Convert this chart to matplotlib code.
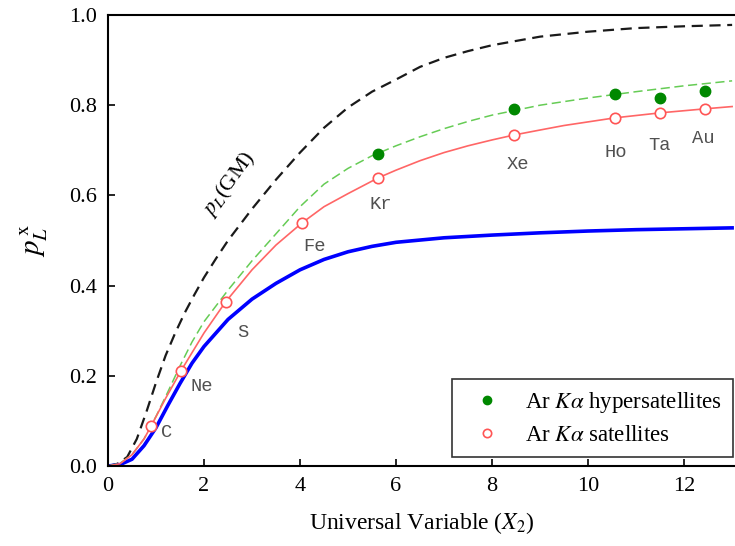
import matplotlib
matplotlib.use("Agg")
import matplotlib.pyplot as plt

plt.rcParams['font.family'] = ['Liberation Serif', 'DejaVu Serif']
plt.rcParams['mathtext.fontset'] = 'stix'

# Curves
gm_x = [0, 0.2, 0.4, 0.6, 0.8, 1.0, 1.2, 1.4, 1.6, 1.8, 2.0, 2.25, 2.5, 2.75, 3.0, 3.5,
        4.0, 4.5, 5.0, 5.5, 6.0, 6.5, 7.0, 7.5, 8.0, 9, 10, 11, 12, 13]
gm_y = [0, 0.005, 0.02, 0.06, 0.12, 0.185, 0.245, 0.295, 0.34, 0.38, 0.418, 0.46, 0.50,
        0.535, 0.57, 0.635, 0.695, 0.75, 0.795, 0.83, 0.857, 0.885, 0.905, 0.92, 0.933,
        0.952, 0.963, 0.971, 0.975, 0.978]

blue_x = [0, 0.25, 0.5, 0.75, 1.0, 1.25, 1.5, 1.75, 2.0, 2.5, 3, 3.5, 4, 4.5, 5, 5.5, 6,
          7, 8, 9, 10, 11, 12, 13]
blue_y = [0, 0.003, 0.015, 0.045, 0.085, 0.135, 0.183, 0.228, 0.265, 0.325, 0.37, 0.405,
          0.435, 0.458, 0.475, 0.487, 0.496, 0.506, 0.512, 0.517, 0.521, 0.524, 0.526, 0.528]

green_x = [0, 0.25, 0.5, 0.75, 1.0, 1.25, 1.5, 1.75, 2.0, 2.5, 3.0, 3.5, 4.0, 4.5, 5.0,
           5.5, 6.0, 6.5, 7, 7.5, 8, 9, 10, 11, 12, 13]
green_y = [0, 0.006, 0.025, 0.06, 0.11, 0.165, 0.222, 0.275, 0.32, 0.39, 0.455, 0.515,
           0.575, 0.625, 0.66, 0.688, 0.71, 0.73, 0.748, 0.764, 0.778, 0.80, 0.816, 0.83,
           0.843, 0.854]

red_x = [0, 0.25, 0.5, 0.75, 0.9, 1.2, 1.52, 2.0, 2.45, 3.0, 3.5, 4.04, 4.5, 5.0, 5.63,
         6.0, 6.5, 7.0, 7.5, 8.0, 8.46, 9.0, 9.5, 10.0, 10.56, 11.5, 12.44, 13]
red_y = [0, 0.005, 0.025, 0.06, 0.089, 0.15, 0.211, 0.295, 0.364, 0.435, 0.49, 0.539,
         0.575, 0.604, 0.639, 0.656, 0.677, 0.695, 0.71, 0.723, 0.734, 0.745, 0.755,
         0.763, 0.772, 0.783, 0.792, 0.797]

# Data points
elements = ['C', 'Ne', 'S', 'Fe', 'Kr', 'Xe', 'Ho', 'Ta', 'Au']
sat_x = [0.90, 1.52, 2.45, 4.04, 5.63, 8.46, 10.56, 11.50, 12.44]
sat_y = [0.089, 0.211, 0.364, 0.539, 0.639, 0.734, 0.772, 0.783, 0.792]
hyp_x = [5.63, 8.46, 10.56, 11.50, 12.44]
hyp_y = [0.692, 0.792, 0.825, 0.816, 0.831]

# label positions (data coords)
lab_x = [1.23, 1.96, 2.80, 4.31, 5.68, 8.53, 10.58, 11.48, 12.40]
lab_y = [0.075, 0.177, 0.297, 0.486, 0.579, 0.668, 0.695, 0.710, 0.726]

xticks = [0, 2, 4, 6, 8, 10, 12]
yticks = [0.0, 0.2, 0.4, 0.6, 0.8, 1.0]

fig = plt.figure(figsize=(7.35, 5.46), dpi=100)
ax = fig.add_axes([108/735, 1-466/546, 1-108/735, (466-15)/546])

ax.plot(gm_x, gm_y, color='#1a1a1a', lw=1.6, ls=(0, (5, 3)))
ax.plot(blue_x, blue_y, color='#0000ff', lw=2.6)
ax.plot(green_x, green_y, color='#66cc55', lw=1.1, ls=(0, (6, 3)))
ax.plot(red_x, red_y, color='#ff6666', lw=1.2)

ax.plot(hyp_x, hyp_y, 'o', color='#008800', ms=7.5, ls='none', zorder=5,
        label=r'Ar $K\alpha$ hypersatellites')
ax.plot(sat_x, sat_y, 'o', mfc='white', mec='#ff5555', mew=1.2, ms=7.5, ls='none', zorder=5,
        label=r'Ar $K\alpha$ satellites')

for name, lx, ly in zip(elements, lab_x, lab_y):
    ax.text(lx, ly, name, family=['Liberation Mono', 'DejaVu Sans Mono'], fontsize=13.5,
            color='#505050', ha='center', va='center')

ax.text(2.52, 0.625, r'$p_L$(GM)', fontsize=16, rotation=54, ha='center', va='center')

ax.set_xlim(0, 13.06)
ax.set_ylim(0, 1.0)
ax.set_xticks(xticks)
ax.set_xticklabels([str(t) for t in xticks])
ax.set_yticks(yticks)
ax.set_yticklabels(['%.1f' % t for t in yticks])
ax.tick_params(direction='in', length=5, width=1.2, labelsize=16, pad=8)
ax.spines['right'].set_visible(False)
for s in ['left', 'bottom', 'top']:
    ax.spines[s].set_linewidth(1.5)

ax.set_xlabel(r'Universal Variable ($X_2$)', fontsize=17, labelpad=10)
ax.set_ylabel(r'$p_L^{\,\mathrm{x}}$', fontsize=21, labelpad=14)

leg = ax.legend(loc='lower right', bbox_to_anchor=(0.997, 0.02), fontsize=16.5, frameon=True,
                fancybox=False, edgecolor='black', handletextpad=0.64, borderpad=0.5,
                borderaxespad=0, markerscale=0.8, handlelength=2.05, labelspacing=0.4)
leg.get_frame().set_linewidth(1.2)

fig.savefig('out.png', dpi=100)
